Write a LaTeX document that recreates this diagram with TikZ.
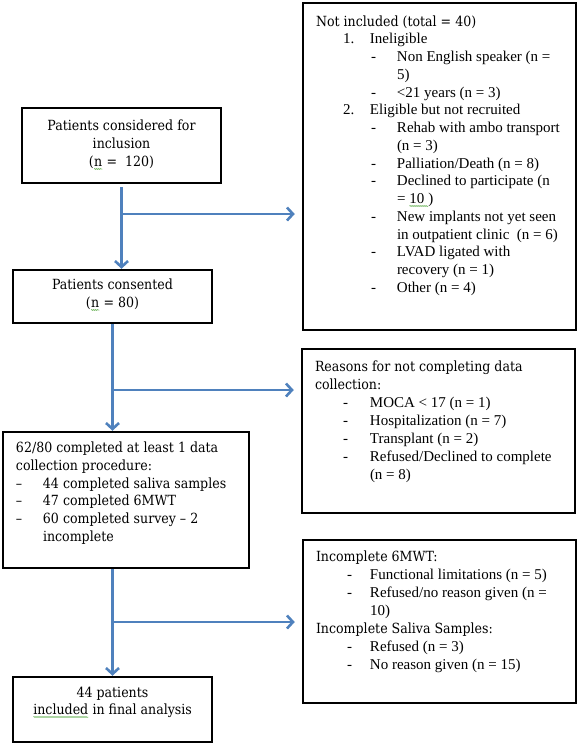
\documentclass[tikz,border=0pt]{standalone}
\usepackage{fontspec}
\setmainfont{Liberation Serif}
\newfontfamily\camb{DejaVu Serif Condensed}
\usetikzlibrary{arrows.meta,decorations.pathmorphing}
\definecolor{arrowblue}{RGB}{79,129,189}
\definecolor{sqgreen}{RGB}{90,170,70}
\newcommand\sq[1]{\tikz[baseline=(sqt.base),x=1pt,y=1pt]{\node[inner sep=0pt,outer sep=0pt,draw=none](sqt){#1};\draw[draw=sqgreen,line width=0.5pt,decorate,decoration={snake,amplitude=0.6pt,segment length=2pt}] ([yshift=-2.5pt]sqt.base west)--([yshift=-2.5pt]sqt.base east);}}
\newcommand\itm[4]{\hspace*{#1}\makebox[#2][l]{#3}#4}
\newcommand\hd{\camb\fontsize{14}{18}\selectfont}
\begin{document}
\begin{tikzpicture}[x=1pt,y=1pt,
  box/.style={draw=black, line width=2.5pt, inner sep=0pt},
  arr/.style={draw=arrowblue, line width=2.6pt, -{Straight Barb[length=6pt,width=13pt]}}]
\useasboundingbox (0,0) rectangle (579,-745);

\node[box] (A) at (121.5,-145.5) {\parbox[c][75pt][t]{199pt}{\hd\centering
  \rule{0pt}{22.5pt}Patients considered for\\inclusion\\(\sq{n} =~ 120)}};

\node[box] (B) at (112.5,-296.5) {\parbox[c][53pt][t]{199pt}{\hd\centering
  \rule{0pt}{19.5pt}Patients consented\\(\sq{n} = 80)}};

\node[box] (D) at (126,-500) {\parbox[c][136pt][t]{246pt}{\camb\fontsize{14}{17.8}\selectfont
  \rule{0pt}{20.5pt}\hspace*{13pt}62/80 completed at least 1 data\\
  \hspace*{13pt}collection procedure:\\
  \itm{13pt}{27pt}{–}{44 completed saliva samples}\\
  \itm{13pt}{27pt}{–}{47 completed 6MWT}\\
  \itm{13pt}{27pt}{–}{60 completed survey – 2}\\
  \hspace*{40pt}incomplete}};

\node[box] (F) at (112.5,-709.5) {\parbox[c][65pt][t]{199pt}{\camb\fontsize{14}{17}\selectfont\centering
  \rule{0pt}{20.5pt}44 patients\\\sq{included} in final analysis}};

\node[box] (N1) at (439.5,-166.5) {\parbox[c][327pt][t]{273pt}{\fontsize{15}{17.75}\selectfont
  \rule{0pt}{23pt}\hspace*{13pt}{\hd Not included (total = 40)}\\
  \itm{40pt}{27pt}{1.}{Ineligible}\\
  \itm{68pt}{26pt}{-}{Non English speaker (n =}\\
  \hspace*{94pt}5)\\
  \itm{68pt}{26pt}{-}{<21 years (n = 3)}\\
  \itm{40pt}{27pt}{2.}{Eligible but not recruited}\\
  \itm{68pt}{26pt}{-}{Rehab with ambo transport}\\
  \hspace*{94pt}(n = 3)\\
  \itm{68pt}{26pt}{-}{Palliation/Death (n = 8)}\\
  \itm{68pt}{26pt}{-}{Declined to participate (n}\\
  \hspace*{94pt}= \sq{10~~})\\
  \itm{68pt}{26pt}{-}{New implants not yet seen}\\
  \hspace*{94pt}in outpatient clinic~ (n = 6)\\
  \itm{68pt}{26pt}{-}{LVAD ligated with}\\
  \hspace*{94pt}recovery (n = 1)\\
  \itm{68pt}{26pt}{-}{Other (n = 4)}}};

\node[box] (NC) at (438.5,-431) {\parbox[c][164pt][t]{273pt}{\fontsize{15}{18}\selectfont
  \rule{0pt}{22.5pt}\hspace*{13pt}{\hd Reasons for not completing data}\\
  \hspace*{13pt}{\hd collection:}\\
  \itm{41pt}{27pt}{-}{MOCA < 17 (n = 1)}\\
  \itm{41pt}{27pt}{-}{Hospitalization (n = 7)}\\
  \itm{41pt}{27pt}{-}{Transplant (n = 2)}\\
  \itm{41pt}{27pt}{-}{Refused/Declined to complete}\\
  \hspace*{68pt}(n = 8)}};

\node[box] (NE) at (439.5,-621.5) {\parbox[c][163pt][t]{273pt}{\fontsize{15}{18}\selectfont
  \rule{0pt}{21.5pt}\hspace*{13pt}{\hd Incomplete 6MWT:}\\
  \itm{44pt}{23pt}{-}{Functional limitations (n = 5)}\\
  \itm{44pt}{23pt}{-}{Refused/no reason given (n =}\\
  \hspace*{67pt}10)\\
  \hspace*{13pt}{\hd Incomplete Saliva Samples:}\\
  \itm{44pt}{23pt}{-}{Refused (n = 3)}\\
  \itm{44pt}{23pt}{-}{No reason given (n = 15)}}};

\coordinate (y1) at (0,-214);
\coordinate (y2) at (0,-390);
\coordinate (y3) at (0,-622);
\draw[arr, shorten <=3pt] (A.south) -- (A.south |- B.north);
\coordinate (j1) at (A.south |- y1);
\draw[arr, shorten >=7pt] (j1) -- (j1 -| N1.west);
\draw[arr] (B.south) -- (B.south |- D.north);
\coordinate (j2) at (B.south |- y2);
\draw[arr, shorten >=7pt] (j2) -- (j2 -| NC.west);
\draw[arr] (F.north |- D.south) -- (F.north);
\coordinate (j3) at (F.north |- y3);
\draw[arr, shorten >=7pt] (j3) -- (j3 -| NE.west);
\end{tikzpicture}
\end{document}
